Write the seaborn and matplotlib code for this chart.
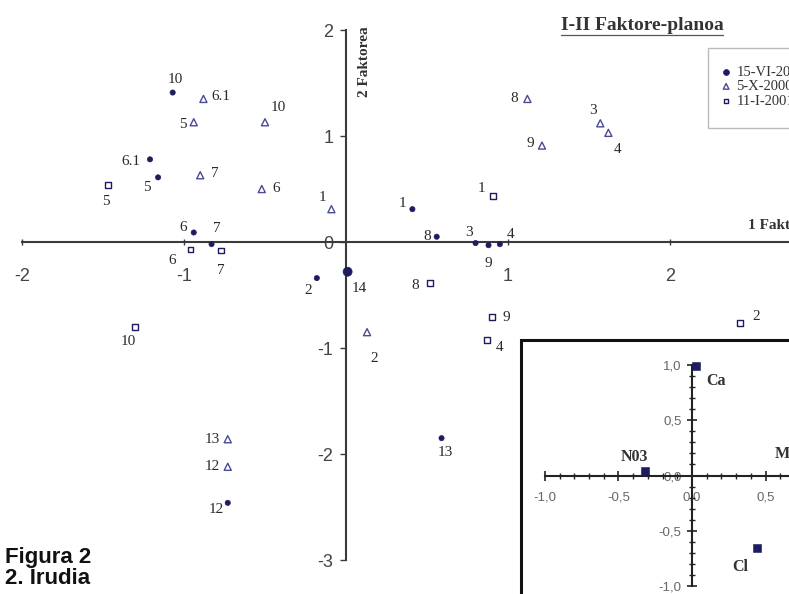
import numpy as np
import matplotlib.pyplot as plt
import matplotlib.ticker as mticker
from matplotlib.patches import Rectangle
from matplotlib.lines import Line2D
import seaborn as sb
import pandas as pd

# datos: puntos del plano factorial I-II (tres campañas)
labels_a = ["10", "6.1", "5", "6", "7", "2", "14", "1", "8", "3", "9", "4", "13", "12"]
x_a = [-1.07, -1.21, -1.16, -0.94, -0.83, -0.18, 0.01, 0.41, 0.56, 0.80, 0.88, 0.95, 0.59, -0.73]
y_a = [1.41, 0.78, 0.61, 0.09, -0.02, -0.34, -0.28, 0.31, 0.05, -0.01, -0.03, -0.02, -1.85, -2.46]

labels_b = ["6.1", "5", "10", "7", "6", "1", "8", "9", "3", "4", "2", "13", "12"]
x_b = [-0.88, -0.94, -0.50, -0.90, -0.52, -0.09, 1.12, 1.21, 1.57, 1.62, 0.13, -0.73, -0.73]
y_b = [1.35, 1.13, 1.13, 0.63, 0.50, 0.31, 1.35, 0.91, 1.12, 1.03, -0.85, -1.86, -2.12]

labels_c = ["5", "6", "7", "1", "8", "9", "4", "2", "10"]
x_c = [-1.47, -0.96, -0.77, 0.91, 0.52, 0.90, 0.87, 2.43, -1.30]
y_c = [0.54, -0.07, -0.08, 0.43, -0.39, -0.71, -0.92, -0.76, -0.80]

series = ["15-VI-2000", "5-X-2000", "11-I-2001"]

# circulo de correlaciones (inset)
var_names = ["Ca", "N03", "Cl", "Mg"]
var_x = [0.03, -0.32, 0.44, 0.80]
var_y = [0.99, 0.04, -0.66, 0.02]

# desplazamientos de las etiquetas (pixels)
off_a = [(3, 13), (-19, -2), (-11, -10), (-11, 5), (5, 16), (-9, -12), (12, -17),
         (-10, 6), (-10, 0), (-7, 11), (0, -18), (11, 10), (4, -14), (-11, -7)]
off_b = [(17, 2), (-11, -2), (13, 15), (15, 2), (14, 1), (-9, 12), (-13, 0),
         (-12, 2), (-7, 13), (9, -17), (7, -26), (-15, 0), (-15, 0)]
off_c = [(-2, -17), (-18, -11), (0, -20), (-12, 8), (-15, -2), (15, 0), (13, -8),
         (17, 6), (-7, -15)]
off_v = [(20, -15), (-11, 14), (-16, -19), (-23, 19)]

serif = "Liberation Serif"
sans = "Liberation Sans"
navy = "#1c1c5e"
tri = "#4a4a96"

sb.set_style("white")
plt.rcParams['font.family'] = [sans, 'DejaVu Sans']
plt.rcParams['axes.unicode_minus'] = False

fig = plt.figure(figsize=(7.89, 5.94), dpi=100)
ax = fig.add_axes([0, 0, 1, 1])
ax.set_xlim(-2.136, 2.735)
ax.set_ylim(-3.32, 2.283)

df_a = pd.DataFrame({"x": x_a, "y": y_a, "lab": labels_a})
df_b = pd.DataFrame({"x": x_b, "y": y_b, "lab": labels_b})
df_c = pd.DataFrame({"x": x_c, "y": y_c, "lab": labels_c})

sb.scatterplot(data=df_a, x="x", y="y", marker="o", color=navy, edgecolor=navy,
               s=[42 if l == "14" else 14 for l in labels_a], linewidth=0.5,
               ax=ax, label=series[0], zorder=3)
sb.scatterplot(data=df_b, x="x", y="y", marker="^", color=tri, facecolors="none",
               edgecolor=tri, s=26, linewidth=1.0, ax=ax, label=series[1], zorder=3)
sb.scatterplot(data=df_c, x="x", y="y", marker="s", color=navy, facecolors="none",
               edgecolor=navy, s=18, linewidth=1.0, ax=ax, label=series[2], zorder=3)

for df, offs in [(df_a, off_a), (df_b, off_b), (df_c, off_c)]:
    for (_, r), (dx, dy) in zip(df.iterrows(), offs):
        ax.annotate(r["lab"], (r["x"], r["y"]), xytext=(dx, dy), textcoords="offset pixels",
                    ha="center", va="center", fontsize=11, family=serif, color="#2a2a2a")

# ejes cruzados en el origen
for s in ["top", "right"]:
    ax.spines[s].set_visible(False)
ax.spines["left"].set_position(("data", 0))
ax.spines["bottom"].set_position(("data", 0))
ax.spines["left"].set_bounds(-3, 2)
ax.spines["bottom"].set_bounds(-2, 2.735)
for s in ["left", "bottom"]:
    ax.spines[s].set_color("#3a3a3a")
    ax.spines[s].set_linewidth(1.5)
ax.set_yticks([-3, -2, -1, 0, 1, 2])
ax.set_xticks([-2, -1, 1, 2])
ax.tick_params(axis="y", left=True, direction="out", length=4, width=1, color="#3a3a3a",
               labelsize=13, labelcolor="#444444", pad=5)
ax.tick_params(axis="x", bottom=True, direction="inout", length=5, width=1, color="#3a3a3a",
               labelsize=13, labelcolor="#444444", pad=16)
ax.set_xlabel("")
ax.set_ylabel("")
ax.get_legend().remove()

fig.text(365 / 789, 1 - 62 / 594, "2 Faktorea", rotation=90, ha="center", va="center",
         family=serif, fontweight="bold", fontsize=11, color="#333333")
fig.text(748 / 789, 1 - 226 / 594, "1 Faktorea", ha="left", va="center",
         family=serif, fontweight="bold", fontsize=11, color="#333333")
title = fig.text(642 / 789, 1 - 25 / 594, "I-II Faktore-planoa", ha="center", va="center",
                 family=serif, fontweight="bold", fontsize=14, color="#333333")

fig.text(5 / 789, 1 - 568 / 594, "Figura 2\n2. Irudia", ha="left", va="center",
         fontweight="bold", fontsize=16, linespacing=1.05, color="#111111", family=sans)

# leyenda
fig.patches.append(Rectangle((708 / 789, 1 - 128 / 594), 90 / 789, 80 / 594,
                             transform=fig.transFigure, fill=False, ec="#bbbbbb", lw=1))
h, l = ax.get_legend_handles_labels()
fig.legend(h, l, loc="upper left", bbox_to_anchor=(713 / 789, 1 - 58 / 594),
           frameon=False, prop={"family": serif, "size": 10.5}, labelspacing=0.1,
           handletextpad=0.3, handlelength=0.8, borderpad=0, labelcolor="#333333",
           markerscale=0.8)

# circulo de correlaciones
ax2 = fig.add_axes([521 / 789, (594 - 611) / 594, (863 - 521) / 789, 271 / 594])
ax2.set_facecolor("white")
ax2.set_xlim(-1.163, 1.163)
ax2.set_ylim(-1.227, 1.227)
df_v = pd.DataFrame({"x": var_x, "y": var_y, "lab": var_names})
sb.scatterplot(data=df_v, x="x", y="y", marker="s", color=navy, edgecolor=navy,
               s=26, ax=ax2, zorder=3, clip_on=False)
for (_, r), (dx, dy) in zip(df_v.iterrows(), off_v):
    ax2.annotate(r["lab"], (r["x"], r["y"]), xytext=(dx, dy), textcoords="offset pixels",
                 ha="center", va="center", fontsize=11.5, family=serif, fontweight="bold",
                 color="#333333")
for s in ["top", "right"]:
    ax2.spines[s].set_visible(False)
ax2.spines["left"].set_position(("data", 0))
ax2.spines["bottom"].set_position(("data", 0))
ax2.spines["left"].set_bounds(-1, 1)
ax2.spines["bottom"].set_bounds(-1, 1.163)
for s in ["left", "bottom"]:
    ax2.spines[s].set_linewidth(1.5)
    ax2.spines[s].set_color("#222222")
fmt = mticker.FuncFormatter(lambda v, p: f"{v:.1f}".replace(".", ","))
for a in [ax2.xaxis, ax2.yaxis]:
    a.set_major_locator(mticker.FixedLocator([-1, -0.5, 0, 0.5, 1]))
    a.set_minor_locator(mticker.FixedLocator(np.round(np.arange(-1, 1.01, 0.1), 2)))
    a.set_major_formatter(fmt)
ax2.tick_params(which="both", left=True, bottom=True)
ax2.tick_params(which="major", direction="inout", length=7, width=1.2, color="#222222",
                labelsize=9.5, labelcolor="#666666")
ax2.tick_params(which="minor", direction="inout", length=4, width=1, color="#222222")
ax2.tick_params(axis="x", pad=8)
ax2.tick_params(axis="y", pad=4)
ax2.set_xlabel("")
ax2.set_ylabel("")
ax2.add_patch(Rectangle((0, 0), 1, 1, transform=ax2.transAxes, fill=False,
                        ec="#111111", lw=2.2, clip_on=False, zorder=5))

# subrayado del titulo
fig.canvas.draw()
bb = title.get_window_extent()
W, H = fig.get_size_inches() * fig.dpi
fig.add_artist(Line2D([bb.x0 / W, bb.x1 / W], [(bb.y0 - 1) / H, (bb.y0 - 1) / H],
                      transform=fig.transFigure, color="#555555", lw=0.9))

fig.savefig("out.png", dpi=100)
